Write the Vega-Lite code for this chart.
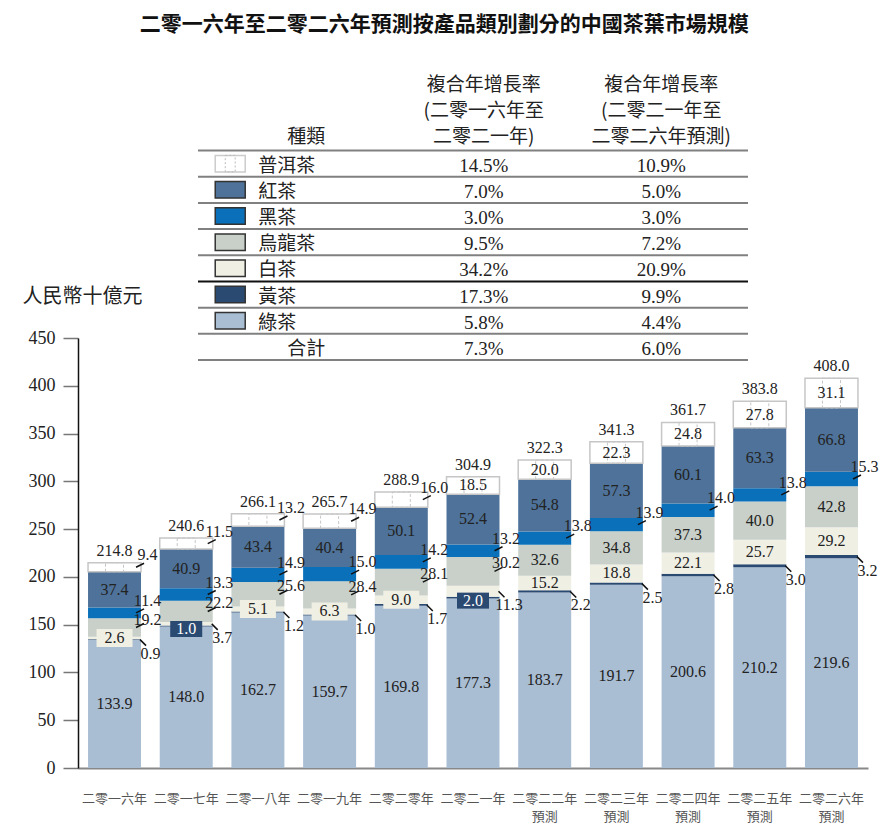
{
  "$schema": "https://vega.github.io/schema/vega-lite/v6.json",
  "background": "white",
  "padding": {"left": 22, "top": 14, "right": 10, "bottom": 10},
  "title": {"text": "二零一六年至二零二六年預測按產品類別劃分的中國茶葉市場規模", "font": "Noto Sans CJK TC", "fontSize": 21, "fontWeight": "bold", "color": "#111", "anchor": "middle", "offset": 37, "dx": -6},
  "config": {"view": {"stroke": null}, "axis": {"grid": false}},
  "datasets": {
    "bars": [
      {"year": "二零一六年", "yr": 2016, "cat": "綠茶", "k": 1, "value": 133.9},
      {"year": "二零一六年", "yr": 2016, "cat": "黃茶", "k": 2, "value": 0.9},
      {"year": "二零一六年", "yr": 2016, "cat": "白茶", "k": 3, "value": 2.6},
      {"year": "二零一六年", "yr": 2016, "cat": "烏龍茶", "k": 4, "value": 19.2},
      {"year": "二零一六年", "yr": 2016, "cat": "黑茶", "k": 5, "value": 11.4},
      {"year": "二零一六年", "yr": 2016, "cat": "紅茶", "k": 6, "value": 37.4},
      {"year": "二零一六年", "yr": 2016, "cat": "普洱茶", "k": 7, "value": 9.4},
      {"year": "二零一七年", "yr": 2017, "cat": "綠茶", "k": 1, "value": 148.0},
      {"year": "二零一七年", "yr": 2017, "cat": "黃茶", "k": 2, "value": 1.0},
      {"year": "二零一七年", "yr": 2017, "cat": "白茶", "k": 3, "value": 3.7},
      {"year": "二零一七年", "yr": 2017, "cat": "烏龍茶", "k": 4, "value": 22.2},
      {"year": "二零一七年", "yr": 2017, "cat": "黑茶", "k": 5, "value": 13.3},
      {"year": "二零一七年", "yr": 2017, "cat": "紅茶", "k": 6, "value": 40.9},
      {"year": "二零一七年", "yr": 2017, "cat": "普洱茶", "k": 7, "value": 11.5},
      {"year": "二零一八年", "yr": 2018, "cat": "綠茶", "k": 1, "value": 162.7},
      {"year": "二零一八年", "yr": 2018, "cat": "黃茶", "k": 2, "value": 1.2},
      {"year": "二零一八年", "yr": 2018, "cat": "白茶", "k": 3, "value": 5.1},
      {"year": "二零一八年", "yr": 2018, "cat": "烏龍茶", "k": 4, "value": 25.6},
      {"year": "二零一八年", "yr": 2018, "cat": "黑茶", "k": 5, "value": 14.9},
      {"year": "二零一八年", "yr": 2018, "cat": "紅茶", "k": 6, "value": 43.4},
      {"year": "二零一八年", "yr": 2018, "cat": "普洱茶", "k": 7, "value": 13.2},
      {"year": "二零一九年", "yr": 2019, "cat": "綠茶", "k": 1, "value": 159.7},
      {"year": "二零一九年", "yr": 2019, "cat": "黃茶", "k": 2, "value": 1.0},
      {"year": "二零一九年", "yr": 2019, "cat": "白茶", "k": 3, "value": 6.3},
      {"year": "二零一九年", "yr": 2019, "cat": "烏龍茶", "k": 4, "value": 28.4},
      {"year": "二零一九年", "yr": 2019, "cat": "黑茶", "k": 5, "value": 15.0},
      {"year": "二零一九年", "yr": 2019, "cat": "紅茶", "k": 6, "value": 40.4},
      {"year": "二零一九年", "yr": 2019, "cat": "普洱茶", "k": 7, "value": 14.9},
      {"year": "二零二零年", "yr": 2020, "cat": "綠茶", "k": 1, "value": 169.8},
      {"year": "二零二零年", "yr": 2020, "cat": "黃茶", "k": 2, "value": 1.7},
      {"year": "二零二零年", "yr": 2020, "cat": "白茶", "k": 3, "value": 9.0},
      {"year": "二零二零年", "yr": 2020, "cat": "烏龍茶", "k": 4, "value": 28.1},
      {"year": "二零二零年", "yr": 2020, "cat": "黑茶", "k": 5, "value": 14.2},
      {"year": "二零二零年", "yr": 2020, "cat": "紅茶", "k": 6, "value": 50.1},
      {"year": "二零二零年", "yr": 2020, "cat": "普洱茶", "k": 7, "value": 16.0},
      {"year": "二零二一年", "yr": 2021, "cat": "綠茶", "k": 1, "value": 177.3},
      {"year": "二零二一年", "yr": 2021, "cat": "黃茶", "k": 2, "value": 2.0},
      {"year": "二零二一年", "yr": 2021, "cat": "白茶", "k": 3, "value": 11.3},
      {"year": "二零二一年", "yr": 2021, "cat": "烏龍茶", "k": 4, "value": 30.2},
      {"year": "二零二一年", "yr": 2021, "cat": "黑茶", "k": 5, "value": 13.2},
      {"year": "二零二一年", "yr": 2021, "cat": "紅茶", "k": 6, "value": 52.4},
      {"year": "二零二一年", "yr": 2021, "cat": "普洱茶", "k": 7, "value": 18.5},
      {"year": "二零二二年 預測", "yr": 2022, "cat": "綠茶", "k": 1, "value": 183.7},
      {"year": "二零二二年 預測", "yr": 2022, "cat": "黃茶", "k": 2, "value": 2.2},
      {"year": "二零二二年 預測", "yr": 2022, "cat": "白茶", "k": 3, "value": 15.2},
      {"year": "二零二二年 預測", "yr": 2022, "cat": "烏龍茶", "k": 4, "value": 32.6},
      {"year": "二零二二年 預測", "yr": 2022, "cat": "黑茶", "k": 5, "value": 13.8},
      {"year": "二零二二年 預測", "yr": 2022, "cat": "紅茶", "k": 6, "value": 54.8},
      {"year": "二零二二年 預測", "yr": 2022, "cat": "普洱茶", "k": 7, "value": 20.0},
      {"year": "二零二三年 預測", "yr": 2023, "cat": "綠茶", "k": 1, "value": 191.7},
      {"year": "二零二三年 預測", "yr": 2023, "cat": "黃茶", "k": 2, "value": 2.5},
      {"year": "二零二三年 預測", "yr": 2023, "cat": "白茶", "k": 3, "value": 18.8},
      {"year": "二零二三年 預測", "yr": 2023, "cat": "烏龍茶", "k": 4, "value": 34.8},
      {"year": "二零二三年 預測", "yr": 2023, "cat": "黑茶", "k": 5, "value": 13.9},
      {"year": "二零二三年 預測", "yr": 2023, "cat": "紅茶", "k": 6, "value": 57.3},
      {"year": "二零二三年 預測", "yr": 2023, "cat": "普洱茶", "k": 7, "value": 22.3},
      {"year": "二零二四年 預測", "yr": 2024, "cat": "綠茶", "k": 1, "value": 200.6},
      {"year": "二零二四年 預測", "yr": 2024, "cat": "黃茶", "k": 2, "value": 2.8},
      {"year": "二零二四年 預測", "yr": 2024, "cat": "白茶", "k": 3, "value": 22.1},
      {"year": "二零二四年 預測", "yr": 2024, "cat": "烏龍茶", "k": 4, "value": 37.3},
      {"year": "二零二四年 預測", "yr": 2024, "cat": "黑茶", "k": 5, "value": 14.0},
      {"year": "二零二四年 預測", "yr": 2024, "cat": "紅茶", "k": 6, "value": 60.1},
      {"year": "二零二四年 預測", "yr": 2024, "cat": "普洱茶", "k": 7, "value": 24.8},
      {"year": "二零二五年 預測", "yr": 2025, "cat": "綠茶", "k": 1, "value": 210.2},
      {"year": "二零二五年 預測", "yr": 2025, "cat": "黃茶", "k": 2, "value": 3.0},
      {"year": "二零二五年 預測", "yr": 2025, "cat": "白茶", "k": 3, "value": 25.7},
      {"year": "二零二五年 預測", "yr": 2025, "cat": "烏龍茶", "k": 4, "value": 40.0},
      {"year": "二零二五年 預測", "yr": 2025, "cat": "黑茶", "k": 5, "value": 13.8},
      {"year": "二零二五年 預測", "yr": 2025, "cat": "紅茶", "k": 6, "value": 63.3},
      {"year": "二零二五年 預測", "yr": 2025, "cat": "普洱茶", "k": 7, "value": 27.8},
      {"year": "二零二六年 預測", "yr": 2026, "cat": "綠茶", "k": 1, "value": 219.6},
      {"year": "二零二六年 預測", "yr": 2026, "cat": "黃茶", "k": 2, "value": 3.2},
      {"year": "二零二六年 預測", "yr": 2026, "cat": "白茶", "k": 3, "value": 29.2},
      {"year": "二零二六年 預測", "yr": 2026, "cat": "烏龍茶", "k": 4, "value": 42.8},
      {"year": "二零二六年 預測", "yr": 2026, "cat": "黑茶", "k": 5, "value": 15.3},
      {"year": "二零二六年 預測", "yr": 2026, "cat": "紅茶", "k": 6, "value": 66.8},
      {"year": "二零二六年 預測", "yr": 2026, "cat": "普洱茶", "k": 7, "value": 31.1}
    ],
    "table": [
      {"cat": "普洱茶", "c1": 0.145, "c2": 0.109},
      {"cat": "紅茶", "c1": 0.070, "c2": 0.050},
      {"cat": "黑茶", "c1": 0.030, "c2": 0.030},
      {"cat": "烏龍茶", "c1": 0.095, "c2": 0.072},
      {"cat": "白茶", "c1": 0.342, "c2": 0.209},
      {"cat": "黃茶", "c1": 0.173, "c2": 0.099},
      {"cat": "綠茶", "c1": 0.058, "c2": 0.044},
      {"cat": "合計", "c1": 0.073, "c2": 0.060}
    ],
    "header": [
      {"cat": "h1", "col": "c1", "text": "複合年增長率"},
      {"cat": "h2", "col": "c1", "text": "(二零一六年至"},
      {"cat": "h3", "col": "c1", "text": "二零二一年)"},
      {"cat": "h1", "col": "c2", "text": "複合年增長率"},
      {"cat": "h2", "col": "c2", "text": "(二零二一年至"},
      {"cat": "h3", "col": "c2", "text": "二零二六年預測)"},
      {"cat": "h3", "col": "c0", "text": "種類"}
    ]
  },
  "bounds": "flush",
  "center": true,
  "spacing": 0,
  "resolve": {"scale": {"color": "independent"}},
  "vconcat": [
    {
      "width": 550,
      "height": 266,
      "layer": [
        {
          "data": {"name": "table"},
          "mark": {"type": "rule", "strokeWidth": 2},
          "encoding": {
            "y": {"field": "cat", "type": "nominal", "bandPosition": 0, "scale": {"type": "band", "domain": ["h1", "h2", "h3", "普洱茶", "紅茶", "黑茶", "烏龍茶", "白茶", "黃茶", "綠茶", "合計"], "range": [0, 288], "paddingInner": 0, "paddingOuter": 0}, "axis": null},
            "color": {"condition": {"test": "datum.cat === '黃茶'", "value": "#111111"}, "value": "#808080"}
          }
        },
        {
          "data": {"name": "table"},
          "transform": [{"filter": "datum.cat === '合計'"}],
          "mark": {"type": "rule", "strokeWidth": 2, "color": "#808080"},
          "encoding": {
            "y": {"field": "cat", "type": "nominal", "bandPosition": 1}
          }
        },
        {
          "data": {"name": "table"},
          "transform": [{"filter": "datum.cat !== '合計'"}],
          "mark": {"type": "point", "shape": "M-1,-0.55H1V0.55H-1Z", "size": 900, "filled": true, "opacity": 1, "strokeWidth": 1.5, "xOffset": -76},
          "encoding": {
            "x": {"datum": "c0", "type": "nominal", "scale": {"type": "point", "domain": ["c0", "c1", "c2"], "padding": 0.5493, "align": 0.555}, "axis": null},
            "y": {"field": "cat", "type": "nominal"},
            "fill": {"field": "cat", "type": "nominal", "scale": {"domain": ["綠茶", "黃茶", "白茶", "烏龍茶", "黑茶", "紅茶", "普洱茶"], "range": ["#a9bdd3", "#2b4a72", "#efefe4", "#c8d0c9", "#0a70ba", "#4e7299", "#ffffff"]}, "legend": null},
            "stroke": {"condition": {"test": "datum.cat === '普洱茶'", "value": "#cccccc"}, "value": "#333333"}
          }
        },
        {
          "data": {"name": "table"},
          "transform": [{"filter": "datum.cat === '普洱茶'"}],
          "mark": {"type": "point", "shape": "M-0.33,-0.55H0.33V0.55H-0.33Z", "size": 900, "filled": false, "opacity": 1, "strokeWidth": 1, "strokeDash": [2, 2], "color": "#bbbbbb", "xOffset": -76},
          "encoding": {
            "x": {"datum": "c0", "type": "nominal"},
            "y": {"field": "cat", "type": "nominal"}
          }
        },
        {
          "data": {"name": "table"},
          "transform": [{"filter": "datum.cat !== '合計'"}],
          "mark": {"type": "text", "font": "Noto Sans CJK TC", "fontSize": 19, "color": "#222", "align": "left", "baseline": "middle", "dx": -48, "dy": 2},
          "encoding": {
            "x": {"datum": "c0", "type": "nominal"},
            "y": {"field": "cat", "type": "nominal"},
            "text": {"field": "cat", "type": "nominal"}
          }
        },
        {
          "data": {"name": "table"},
          "transform": [{"filter": "datum.cat === '合計'"}],
          "mark": {"type": "text", "font": "Noto Sans CJK TC", "fontSize": 19, "color": "#222", "align": "center", "baseline": "middle", "dy": 2},
          "encoding": {
            "x": {"datum": "c0", "type": "nominal"},
            "y": {"field": "cat", "type": "nominal"},
            "text": {"field": "cat", "type": "nominal"}
          }
        },
        {
          "data": {"name": "table"},
          "mark": {"type": "text", "font": "Liberation Serif", "fontSize": 19, "color": "#222", "align": "center", "baseline": "middle", "dy": 2},
          "encoding": {
            "x": {"datum": "c1", "type": "nominal"},
            "y": {"field": "cat", "type": "nominal"},
            "text": {"field": "c1", "type": "quantitative", "format": ".1%"}
          }
        },
        {
          "data": {"name": "table"},
          "mark": {"type": "text", "font": "Liberation Serif", "fontSize": 19, "color": "#222", "align": "center", "baseline": "middle", "dy": 2},
          "encoding": {
            "x": {"datum": "c2", "type": "nominal"},
            "y": {"field": "cat", "type": "nominal"},
            "text": {"field": "c2", "type": "quantitative", "format": ".1%"}
          }
        },
        {
          "data": {"name": "header"},
          "mark": {"type": "text", "font": "Noto Sans CJK TC", "fontSize": 19, "color": "#222", "align": "center", "baseline": "middle"},
          "encoding": {
            "x": {"field": "col", "type": "nominal"},
            "y": {"field": "cat", "type": "nominal"},
            "text": {"field": "text", "type": "nominal"}
          }
        }
      ]
    },
    {
      "width": 790,
      "height": 430,
      "data": {"name": "bars"},
      "transform": [{"stack": "value", "groupby": ["year"], "sort": [{"field": "k", "order": "ascending"}], "as": ["v0", "v1"]}],
      "encoding": {
        "x": {
          "field": "year", "type": "nominal",
          "sort": ["二零一六年", "二零一七年", "二零一八年", "二零一九年", "二零二零年", "二零二一年", "二零二二年 預測", "二零二三年 預測", "二零二四年 預測", "二零二五年 預測", "二零二六年 預測"],
          "scale": {"paddingInner": 0.261, "paddingOuter": 0.14},
          "axis": {"title": null, "domainColor": "#888", "domainWidth": 2, "ticks": false, "labelAngle": 0, "labelFont": "Noto Sans CJK TC", "labelFontSize": 13, "labelColor": "#555", "labelPadding": 24, "labelLineHeight": 18, "labelExpr": "split(datum.label, ' ')"}
        }
      },
      "layer": [
        {
          "mark": {"type": "bar"},
          "encoding": {
            "y": {"field": "v1", "type": "quantitative", "scale": {"domain": [0, 450], "nice": false},
              "axis": {"title": "人民幣十億元", "titleAngle": 0, "titleAlign": "left", "titleBaseline": "middle", "titleX": -56, "titleY": -42, "titleFont": "Noto Sans CJK TC", "titleFontSize": 20, "titleFontWeight": "normal", "titleColor": "#222", "values": [0, 50, 100, 150, 200, 250, 300, 350, 400, 450], "labelFont": "Liberation Serif", "labelFontSize": 18, "labelColor": "#222", "labelPadding": 8, "tickSize": 15, "tickColor": "#777", "tickWidth": 1.5, "domainColor": "#111", "domainWidth": 1.5}},
            "y2": {"field": "v0"},
            "color": {"field": "cat", "type": "nominal", "scale": {"domain": ["綠茶", "黃茶", "白茶", "烏龍茶", "黑茶", "紅茶", "普洱茶"], "range": ["#a9bdd3", "#2b4a72", "#efefe4", "#c8d0c9", "#0a70ba", "#4e7299", "#ffffff"]}, "legend": null}
          }
        },
        {
          "transform": [{"filter": "datum.cat === '普洱茶'"}],
          "mark": {"type": "bar", "fillOpacity": 0, "stroke": "#c6c6c6", "strokeWidth": 1.5},
          "encoding": {"y": {"field": "v1", "type": "quantitative"}, "y2": {"field": "v0"}}
        },
        {
          "transform": [{"filter": "datum.cat === '普洱茶'"}],
          "mark": {"type": "bar", "width": {"band": 0.34}, "fillOpacity": 0, "stroke": "#c6c6c6", "strokeWidth": 1, "strokeDash": [3, 2]},
          "encoding": {"y": {"field": "v1", "type": "quantitative"}, "y2": {"field": "v0"}}
        },
        {
          "transform": [
            {"fold": ["v0", "v1"], "as": ["end", "pos"]},
            {"aggregate": [{"op": "mean", "field": "pos", "as": "mid"}], "groupby": ["year", "yr", "cat", "value"]}
          ],
          "layer": [
            {
              "transform": [{"filter": "datum.cat === '綠茶' || datum.cat === '紅茶' || (datum.yr >= 2022 && (datum.cat === '烏龍茶' || datum.cat === '白茶')) || (datum.yr >= 2021 && datum.cat === '普洱茶')"}],
              "mark": {"type": "text", "font": "Liberation Serif", "fontSize": 16, "color": "#222", "baseline": "middle"},
              "encoding": {"y": {"field": "mid", "type": "quantitative"}, "text": {"field": "value", "type": "quantitative", "format": ".1f"}}
            },
            {
              "transform": [{"filter": "datum.cat === '白茶' && datum.yr <= 2020 && datum.yr !== 2017"}],
              "mark": {"type": "point", "shape": "M-1,-0.5H1V0.5H-1Z", "size": 1296, "filled": true, "opacity": 1, "color": "#efefe4"},
              "encoding": {"y": {"field": "mid", "type": "quantitative"}}
            },
            {
              "transform": [{"filter": "datum.cat === '白茶' && datum.yr <= 2020 && datum.yr !== 2017"}],
              "mark": {"type": "text", "font": "Liberation Serif", "fontSize": 16, "color": "#222", "baseline": "middle"},
              "encoding": {"y": {"field": "mid", "type": "quantitative"}, "text": {"field": "value", "type": "quantitative", "format": ".1f"}}
            },
            {
              "transform": [{"filter": "datum.cat === '黃茶' && (datum.yr === 2017 || datum.yr === 2021)"}],
              "mark": {"type": "point", "shape": "M-1,-0.5H1V0.5H-1Z", "size": 1024, "filled": true, "opacity": 1, "color": "#2b4a72", "yOffset": 3},
              "encoding": {"y": {"field": "mid", "type": "quantitative"}}
            },
            {
              "transform": [{"filter": "datum.cat === '黃茶' && (datum.yr === 2017 || datum.yr === 2021)"}],
              "mark": {"type": "text", "font": "Liberation Serif", "fontSize": 16, "color": "#ffffff", "baseline": "middle", "dy": 3},
              "encoding": {"y": {"field": "mid", "type": "quantitative"}, "text": {"field": "value", "type": "quantitative", "format": ".1f"}}
            },
            {
              "transform": [{"filter": "datum.cat === '黑茶' || (datum.cat === '烏龍茶' && datum.yr <= 2021) || (datum.cat === '普洱茶' && datum.yr <= 2020)"}],
              "mark": {"type": "rule", "color": "#111", "strokeWidth": 1.5, "xOffset": 21.5, "x2Offset": 29.5, "y2Offset": -4},
              "encoding": {"x2": {"field": "year"}, "y": {"field": "mid", "type": "quantitative"}, "y2": {"field": "mid"}}
            },
            {
              "transform": [{"filter": "datum.cat === '黑茶' || (datum.cat === '普洱茶' && datum.yr <= 2020)"}],
              "mark": {"type": "text", "font": "Liberation Serif", "fontSize": 16, "color": "#222", "baseline": "middle", "dx": 33, "dy": -12},
              "encoding": {"y": {"field": "mid", "type": "quantitative"}, "text": {"field": "value", "type": "quantitative", "format": ".1f"}}
            },
            {
              "transform": [{"filter": "datum.cat === '烏龍茶' && datum.yr <= 2021"}],
              "mark": {"type": "text", "font": "Liberation Serif", "fontSize": 16, "color": "#222", "baseline": "middle", "dx": 33, "dy": -8},
              "encoding": {"y": {"field": "mid", "type": "quantitative"}, "text": {"field": "value", "type": "quantitative", "format": ".1f"}}
            },
            {
              "transform": [{"filter": "(datum.cat === '黃茶' && datum.yr !== 2017 && datum.yr !== 2021) || (datum.cat === '白茶' && (datum.yr === 2017 || datum.yr === 2021))"}],
              "mark": {"type": "rule", "color": "#111", "strokeWidth": 1.5, "xOffset": 25.5, "x2Offset": 31.5, "y2Offset": 6},
              "encoding": {"x2": {"field": "year"}, "y": {"field": "mid", "type": "quantitative"}, "y2": {"field": "mid"}}
            },
            {
              "transform": [{"filter": "(datum.cat === '黃茶' && datum.yr !== 2017 && datum.yr !== 2021) || (datum.cat === '白茶' && (datum.yr === 2017 || datum.yr === 2021))"}],
              "mark": {"type": "text", "font": "Liberation Serif", "fontSize": 16, "color": "#222", "baseline": "middle", "dx": 36, "dy": 14},
              "encoding": {"y": {"field": "mid", "type": "quantitative"}, "text": {"field": "value", "type": "quantitative", "format": ".1f"}}
            }
          ]
        },
        {
          "transform": [{"aggregate": [{"op": "sum", "field": "value", "as": "total"}], "groupby": ["year"]}],
          "mark": {"type": "text", "font": "Liberation Serif", "fontSize": 16, "color": "#222", "baseline": "middle", "dy": -12},
          "encoding": {"y": {"field": "total", "type": "quantitative"}, "text": {"field": "total", "type": "quantitative", "format": ".1f"}}
        }
      ]
    }
  ]
}
